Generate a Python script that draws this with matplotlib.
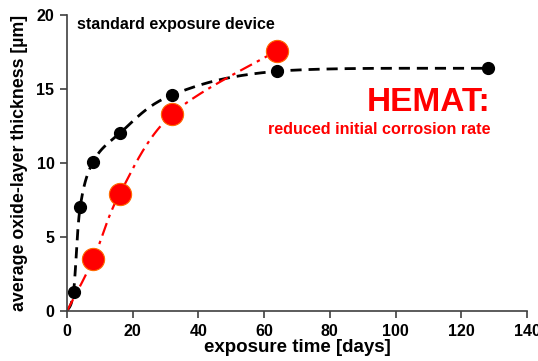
import numpy as np
import matplotlib.pyplot as plt

plt.rcParams['font.family'] = ['Liberation Sans', 'DejaVu Sans']
plt.rcParams['font.weight'] = 'bold'

# standard exposure device
std_days = [0, 2, 4, 8, 16, 32, 64, 128]
std_thick = [0, 1.3, 7.0, 10.1, 12.0, 14.6, 16.2, 16.4]

# HEMAT
hemat_days = [0, 8, 16, 32, 64]
hemat_thick = [0, 3.5, 7.9, 13.3, 17.6]

xticks = [0, 20, 40, 60, 80, 100, 120, 140]
yticks = [0, 5, 10, 15, 20]


def smooth(xs, ys, sx, sy, n=40):
    # Catmull-Rom style smoothing (like excel's smoothed line), done in screen-ish units
    p = np.column_stack([np.array(xs) * sx, np.array(ys) * sy])
    p = np.vstack([p[0], p, p[-1]])
    out = []
    for i in range(1, len(p) - 2):
        p0, p1, p2, p3 = p[i - 1], p[i], p[i + 1], p[i + 2]
        c1 = p1 + (p2 - p0) / 6
        c2 = p2 - (p3 - p1) / 6
        t = np.linspace(0, 1, n)[:, None]
        seg = (1 - t) ** 3 * p1 + 3 * (1 - t) ** 2 * t * c1 + 3 * (1 - t) * t ** 2 * c2 + t ** 3 * p2
        out.append(seg)
    out = np.vstack(out)
    return out[:, 0] / sx, out[:, 1] / sy


fig = plt.figure(figsize=(5.38, 3.61), dpi=100)
ax = fig.add_axes([0.1245, 0.1385, 0.8551, 0.8199])

sx, sy = 460 / 140, 296 / 20
bx, by = smooth(std_days, std_thick, sx, sy)
rx, ry = smooth(hemat_days, hemat_thick, sx, sy)

ax.plot(bx, by, color='black', lw=2, dashes=(4, 2.5), zorder=2)
ax.plot(rx, ry, color='#ff0000', lw=1.6, dashes=(6, 2.5, 1.5, 2.5), zorder=2)
ax.plot(std_days[1:], std_thick[1:], 'o', color='black', ms=8.5, zorder=3)
ax.plot(hemat_days[1:], hemat_thick[1:], 'o', color='#ff0000', mec='#ff6a00',
        mew=0.8, ms=16, zorder=4)

ax.set_xlim(0, 140)
ax.set_ylim(0, 20)
ax.set_xticks(xticks)
ax.set_yticks(yticks)
ax.spines['top'].set_visible(False)
ax.spines['right'].set_visible(False)
for s in ['left', 'bottom']:
    ax.spines[s].set_color('#404040')
    ax.spines[s].set_linewidth(1.2)
ax.tick_params(direction='out', length=5, width=1.2, color='#404040',
               labelsize=11.5, pad=4)
for lab in ax.get_xticklabels() + ax.get_yticklabels():
    lab.set_fontweight('bold')

ax.set_xlabel('exposure time [days]', fontsize=13.5, fontweight='bold', labelpad=0)
ax.set_ylabel('average oxide-layer thickness [µm]', fontsize=12.8, fontweight='bold',
              labelpad=6)

ax.text(3.2, 19.35, 'standard exposure device', fontsize=11.5, fontweight='bold',
        va='center', ha='left')
ax.text(129, 14.1, 'HEMAT:', fontsize=24, fontweight='bold', color='#ff0000',
        ha='right', va='center')
ax.text(129, 12.25, 'reduced initial corrosion rate', fontsize=11.6, fontweight='bold',
        color='#ff0000', ha='right', va='center')

fig.savefig('out.png', dpi=100)
